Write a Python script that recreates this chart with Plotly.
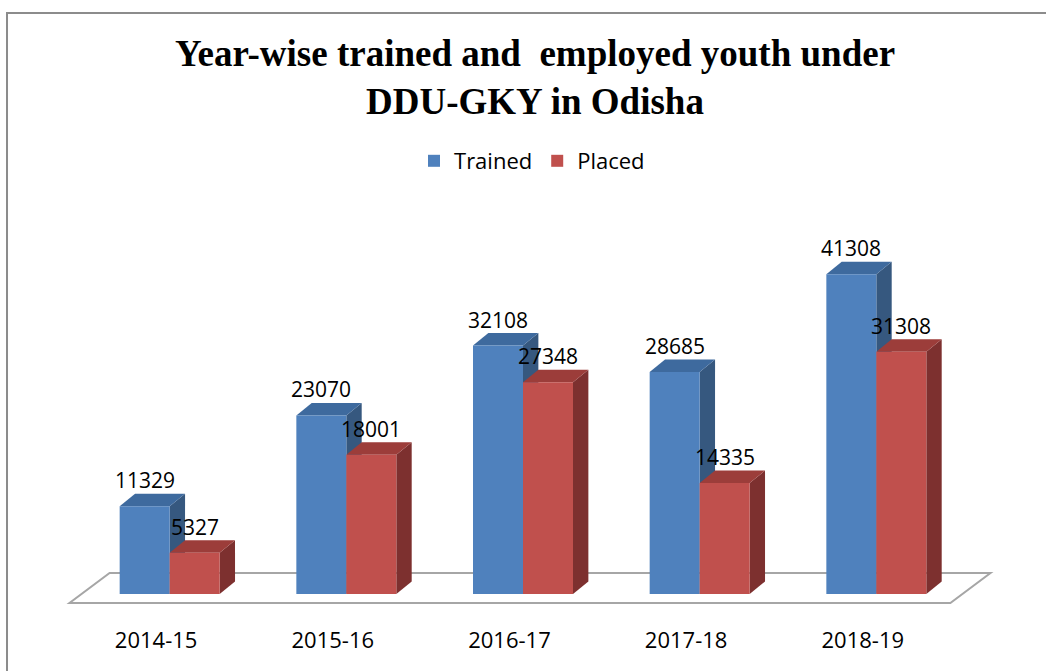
import plotly.graph_objects as go

# ---------------- data ----------------
years = ["2014-15", "2015-16", "2016-17", "2017-18", "2018-19"]
trained = [11329, 23070, 32108, 28685, 41308]
placed = [5327, 18001, 27348, 14335, 31308]

# ---------------- geometry / style ----------------
W, H = 1046, 671
L, R, T, B = 46.45, 46.45, 220, 65
X_RANGE = [-0.7, 4.7]
Y_RANGE = [-1550, 48326]
PLOT_W = W - L - R
PLOT_H = H - T - B

BAR_W = 0.283
DEPTH_X = 0.087          # depth offset in x units
DEPTH_Y = 1615           # depth offset in y units
LABEL_SHIFT = 26         # px above the front top edge
TICK_SHIFT = -0.0765     # category label offset

BLUE = "#4F81BD"; BLUE_TOP = "#3E6A9E"; BLUE_SIDE = "#36587F"
RED = "#C0504D"; RED_TOP = "#9C3D3A"; RED_SIDE = "#7D302F"
FONT = "Open Sans"

xs = list(range(len(years)))


def px_x(px):
    return (px - L) / PLOT_W


def px_y(py):
    return (H - B - py) / PLOT_H


fig = go.Figure()

fig.add_trace(go.Bar(
    x=xs, y=trained, name="Trained", width=BAR_W, offset=-BAR_W,
    marker=dict(color=BLUE, line=dict(width=0)), hoverinfo="x+y"))
fig.add_trace(go.Bar(
    x=xs, y=placed, name="Placed", width=BAR_W, offset=0,
    marker=dict(color=RED, line=dict(width=0)), hoverinfo="x+y"))

shapes = []
# floor slab (decoration, below everything)
floor = [(-0.567, -1163), (4.419, -1163), (4.646, 2713), (-0.340, 2713)]
shapes.append(dict(
    type="path", xref="x", yref="y", layer="below",
    path="M " + " L ".join(f"{a},{b}" for a, b in floor) + " Z",
    line=dict(color="#A6A6A6", width=2), fillcolor="rgba(255,255,255,0)"))


def faces(x0, v, top_col, side_col):
    x1 = x0 + BAR_W
    top = [(x0, v), (x1, v), (x1 + DEPTH_X, v + DEPTH_Y), (x0 + DEPTH_X, v + DEPTH_Y)]
    side = [(x1, 0), (x1, v), (x1 + DEPTH_X, v + DEPTH_Y), (x1 + DEPTH_X, DEPTH_Y)]
    out = []
    for poly, col in ((side, side_col), (top, top_col)):
        out.append(dict(
            type="path", xref="x", yref="y", layer="below",
            path="M " + " L ".join(f"{a},{b}" for a, b in poly) + " Z",
            line=dict(width=0), fillcolor=col))
    return out


for i in xs:
    shapes += faces(i - BAR_W, trained[i], BLUE_TOP, BLUE_SIDE)
    shapes += faces(i, placed[i], RED_TOP, RED_SIDE)

# outer chart frame
shapes.append(dict(
    type="rect", xref="paper", yref="paper",
    x0=px_x(7.5), x1=px_x(1060), y0=px_y(690), y1=px_y(13),
    line=dict(color="#8C8C8C", width=2), fillcolor="rgba(0,0,0,0)", layer="below"))

annotations = []
for i in xs:
    annotations.append(dict(x=i - BAR_W / 2, y=trained[i], text=str(trained[i]),
                            showarrow=False, yshift=LABEL_SHIFT,
                            font=dict(family=FONT, size=21, color="black")))
    annotations.append(dict(x=i + BAR_W / 2, y=placed[i], text=str(placed[i]),
                            showarrow=False, yshift=LABEL_SHIFT,
                            font=dict(family=FONT, size=21, color="black")))

fig.update_layout(
    width=W, height=H,
    margin=dict(l=L, r=R, t=T, b=B, pad=0),
    paper_bgcolor="white", plot_bgcolor="rgba(0,0,0,0)",
    barmode="overlay",
    title=dict(text="Year-wise trained and  employed youth under<br>DDU-GKY in Odisha",
               x=535 / W, xanchor="center", xref="container",
               y=1 - 66 / H, yanchor="middle", yref="container",
               font=dict(family="Liberation Serif", size=37, color="black", weight="bold")),
    legend=dict(orientation="h", x=px_x(532), xanchor="center",
                y=px_y(161), yanchor="middle",
                font=dict(family=FONT, size=22, color="black"),
                bgcolor="rgba(0,0,0,0)"),
    xaxis=dict(range=X_RANGE, tickvals=[i + TICK_SHIFT for i in xs], ticktext=years,
               showgrid=False, zeroline=False, showline=False,
               ticks="outside", ticklen=15, tickcolor="rgba(0,0,0,0)",
               tickfont=dict(family=FONT, size=22, color="black")),
    yaxis=dict(range=Y_RANGE, visible=False, showgrid=False, zeroline=False),
    shapes=shapes, annotations=annotations,
    showlegend=True,
)

fig.write_html("out.html", config={"displayModeBar": False},
               post_script="document.body.style.margin='0';")
